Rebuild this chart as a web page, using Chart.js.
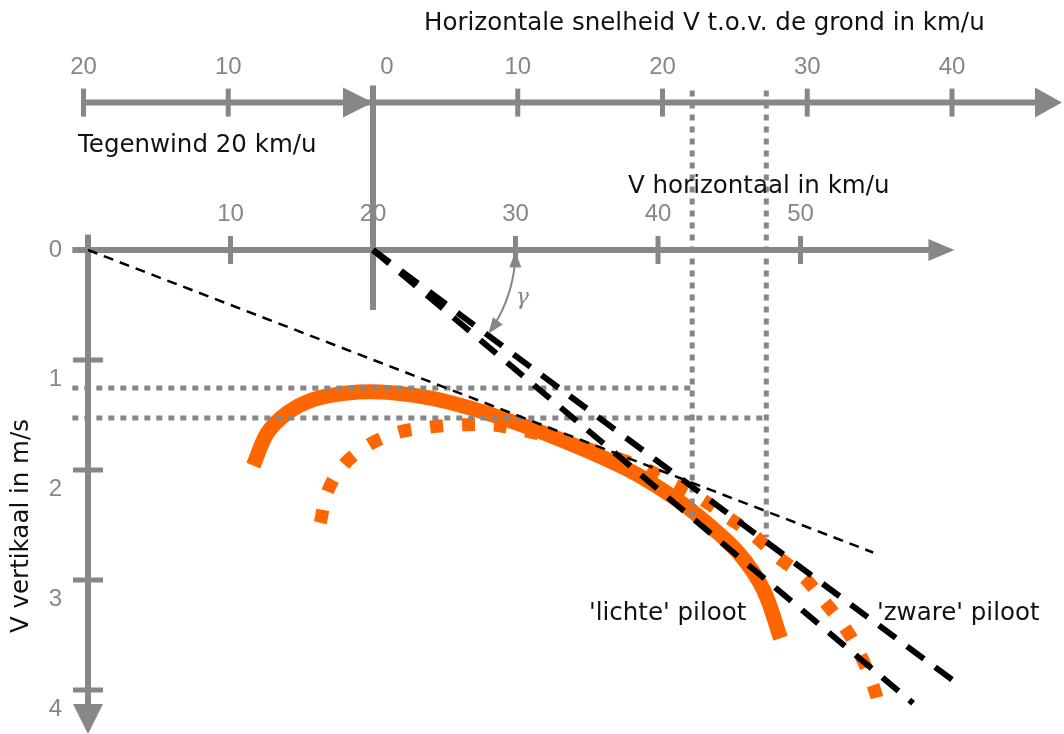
<!DOCTYPE html>
<html>
<head>
<meta charset="utf-8">
<script src="https://cdn.jsdelivr.net/npm/chart.js@4/dist/chart.umd.min.js"></script>
<style>
  html, body { margin: 0; padding: 0; background: #fff; }
  #wrap { width: 1064px; height: 734px; }
</style>
</head>
<body>
<div id="wrap"><canvas id="polar" width="1064" height="734"></canvas></div>
<script>
// Glider speed polar: airspeed (km/u) against sink rate (m/s)
// for a light and a heavy pilot, with best-glide tangents in a 20 km/u headwind.

// 'lichte' piloot — solid curve
const lightSpeed = [11.6, 12.6, 14.0, 15.8, 18.2, 20.5, 22.8, 25.2, 28.4, 33.1, 37.8, 41.0, 43.4, 45.7, 47.4, 48.6];
const lightSink  = [1.96, 1.66, 1.48, 1.36, 1.30, 1.29, 1.32, 1.38, 1.50, 1.72, 1.99, 2.24, 2.48, 2.76, 3.09, 3.53];

// 'zware' piloot — dotted curve
const heavySpeed = [16.3, 16.8, 17.9, 19.6, 21.7, 24.0, 26.1, 28.4, 30.5, 32.9, 35.4, 37.3, 39.0, 41.0, 43.0, 44.9, 46.7, 48.4, 50.2, 51.7, 53.1, 54.2, 55.1, 55.7];
const heavySink  = [2.48, 2.20, 1.96, 1.78, 1.66, 1.61, 1.59, 1.59, 1.64, 1.71, 1.82, 1.90, 1.98, 2.12, 2.26, 2.43, 2.59, 2.79, 2.97, 3.20, 3.43, 3.68, 3.96, 4.23];

// tangent from the origin (still air)
const stillAirTangentX = [0, 55.1];
const stillAirTangentY = [0, 2.75];
// tangents from the headwind point (20 km/u)
const lightTangentX = [20, 57.9];
const lightTangentY = [0, 4.12];
const heavyTangentX = [20, 61.4];
const heavyTangentY = [0, 3.98];

// minimum sink (m/s) and best-glide airspeed (km/u) read-off lines
const minSink        = [1.255, 1.527];
const bestGlideSpeed = [42.4, 47.6];
const bestGlideSink  = [2.47, 2.61];
const readoffStartX  = -1.1;
const groundAxisLevel = -1.34;   // sink-scale level of the ground-speed axis

// axis ticks
const airTicks    = [10, 20, 30, 40, 50];
const groundTicks = [-20, -10, 0, 10, 20, 30, 40];
const sinkTicks   = [0, 1, 2, 3, 4];
const headwind    = 20;

const ORANGE = '#ff6600';
const GREY = '#878787';
const TEXT_FONT = '24.5px "DejaVu Sans", sans-serif';

const pts = (xs, ys) => xs.map((x, i) => ({ x, y: ys[i] }));

const datasets = [
  { label: "'lichte' piloot", data: pts(lightSpeed, lightSink), borderColor: ORANGE, borderWidth: 15,
    borderCapStyle: 'butt', tension: 0.35, order: 6 },
  { label: "'zware' piloot", data: pts(heavySpeed, heavySink), borderColor: ORANGE, borderWidth: 13,
    borderDash: [13, 19], borderCapStyle: 'butt', tension: 0.35, order: 5 },
];
minSink.forEach((s, i) => datasets.push({
  data: [{ x: readoffStartX, y: s }, { x: bestGlideSpeed[i], y: s }],
  borderColor: GREY, borderWidth: 5, borderDash: [6, 6], borderCapStyle: 'butt', order: 4 }));
bestGlideSpeed.forEach((v, i) => datasets.push({
  data: [{ x: v, y: groundAxisLevel - 0.11 }, { x: v, y: bestGlideSink[i] }],
  borderColor: GREY, borderWidth: 5, borderDash: [6, 6], borderCapStyle: 'butt', order: 4 }));
datasets.push(
  { data: pts(stillAirTangentX, stillAirTangentY), borderColor: '#000', borderWidth: 2.5, borderDash: [10, 7], order: 2 },
  { data: pts(lightTangentX, lightTangentY), borderColor: '#000', borderWidth: 6, borderDash: [21, 14], borderCapStyle: 'butt', order: 1 },
  { data: pts(heavyTangentX, heavyTangentY), borderColor: '#000', borderWidth: 6, borderDash: [21, 14], borderCapStyle: 'butt', order: 1 }
);
datasets.forEach(d => { d.showLine = true; d.pointRadius = 0; d.fill = false; });

function arrowHead(ctx, tipX, tipY, dx, dy, len, half) {
  // dx,dy: unit direction of the arrow
  const bx = tipX - dx * len, by = tipY - dy * len;
  ctx.beginPath();
  ctx.moveTo(tipX, tipY);
  ctx.lineTo(bx - dy * half, by + dx * half);
  ctx.lineTo(bx + dy * half, by - dx * half);
  ctx.closePath();
  ctx.fill();
}

const axesPlugin = {
  id: 'polarAxes',
  beforeDraw(chart) {
    const { ctx } = chart;
    ctx.save();
    ctx.fillStyle = '#fff';
    ctx.fillRect(0, 0, chart.width, chart.height);
    ctx.restore();
  },
  beforeDatasetsDraw(chart) {
    const { ctx, scales } = chart;
    const X = v => scales.x.getPixelForValue(v);
    const Y = v => scales.y.getPixelForValue(v);
    const G = v => scales.g.getPixelForValue(v);
    ctx.save();
    ctx.strokeStyle = GREY; ctx.fillStyle = GREY; ctx.lineCap = 'butt';

    // ground-speed axis
    const yt = Y(groundAxisLevel);
    ctx.lineWidth = 6;
    ctx.beginPath(); ctx.moveTo(G(-20), yt); ctx.lineTo(chart.width - 20, yt); ctx.stroke();
    arrowHead(ctx, chart.width - 2, yt, 1, 0, 27, 15);
    arrowHead(ctx, G(0), yt, 1, 0, 30, 15);
    ctx.lineWidth = 5;
    groundTicks.forEach(v => {
      if (v === 0) return;
      ctx.beginPath(); ctx.moveTo(G(v), yt - 14); ctx.lineTo(G(v), yt + 14); ctx.stroke();
    });
    // link between the two axes at the headwind point
    ctx.lineWidth = 6;
    ctx.beginPath(); ctx.moveTo(X(headwind), yt - 17); ctx.lineTo(X(headwind), Y(0.545)); ctx.stroke();

    // airspeed axis
    const y0 = Y(0);
    ctx.beginPath(); ctx.moveTo(X(-1.1), y0); ctx.lineTo(X(59.2), y0); ctx.stroke();
    arrowHead(ctx, X(60.8), y0, 1, 0, 26, 11);
    ctx.lineWidth = 5;
    airTicks.forEach(v => {
      ctx.beginPath(); ctx.moveTo(X(v), y0 - 14); ctx.lineTo(X(v), y0 + 14); ctx.stroke();
    });

    // sink axis
    const x0 = X(0);
    ctx.lineWidth = 6;
    ctx.beginPath(); ctx.moveTo(x0, Y(-0.14)); ctx.lineTo(x0, chart.height - 20); ctx.stroke();
    arrowHead(ctx, x0, chart.height, 0, 1, 30, 15);
    ctx.lineWidth = 5;
    sinkTicks.forEach(v => {
      if (v === 0) return;
      ctx.beginPath(); ctx.moveTo(x0 - 15, Y(v)); ctx.lineTo(x0 + 15, Y(v)); ctx.stroke();
    });

    // tick labels
    ctx.font = '24px "Liberation Sans", Arial, sans-serif';
    ctx.textAlign = 'center'; ctx.textBaseline = 'middle';
    groundTicks.forEach(v => ctx.fillText(String(Math.abs(v)), G(v) + (v === 0 ? 14 : 0), yt - 35));
    airTicks.forEach(v => ctx.fillText(String(v), X(v), y0 - 36));
    ctx.textAlign = 'right';
    sinkTicks.forEach(v => ctx.fillText(String(v), x0 - 26, Y(v) + (v === 0 ? 0 : 19)));
    ctx.restore();
  },
  afterDatasetsDraw(chart) {
    const { ctx, scales } = chart;
    const X = v => scales.x.getPixelForValue(v);
    const Y = v => scales.y.getPixelForValue(v);
    ctx.save();

    // angle of descent γ between the ground line and the heavy-pilot tangent
    const cx = X(headwind), cy = Y(0);
    const r = X(headwind + 10) - cx;
    const dxp = X(heavyTangentX[1]) - cx, dyp = Y(heavyTangentY[1]) - cy;
    const ang = Math.atan2(dyp, dxp);
    ctx.strokeStyle = GREY; ctx.fillStyle = GREY; ctx.lineWidth = 2;
    const a0 = 0.09, a1 = ang - 0.09;
    ctx.beginPath(); ctx.arc(cx, cy, r, a0, a1); ctx.stroke();
    // arrowheads at both ends (tangent directions)
    arrowHead(ctx, cx + r * Math.cos(0.01), cy + r * Math.sin(0.01), Math.sin(0.01), -Math.cos(0.01), 16, 6);
    arrowHead(ctx, cx + r * Math.cos(ang - 0.01), cy + r * Math.sin(ang - 0.01), -Math.sin(ang), Math.cos(ang), 16, 6);
    ctx.font = 'italic 22px "DejaVu Serif", serif';
    ctx.textAlign = 'center'; ctx.textBaseline = 'middle';
    ctx.fillText('γ', cx + r * Math.cos(ang / 2) + 14, cy + r * Math.sin(ang / 2) + 4);

    // titles and annotations
    ctx.fillStyle = '#111';
    ctx.font = TEXT_FONT;
    ctx.textAlign = 'left'; ctx.textBaseline = 'alphabetic';
    ctx.fillText('Horizontale snelheid V t.o.v. de grond in km/u', 424, 30);
    ctx.fillText('Tegenwind 20 km/u', 78, 152);
    ctx.fillText('V horizontaal in km/u', 628, 193);
    ctx.fillText("'lichte' piloot", 589, 620);
    ctx.fillText("'zware' piloot", 877, 620);

    ctx.save();
    ctx.translate(28, 526);
    ctx.rotate(-Math.PI / 2);
    ctx.textAlign = 'center';
    ctx.fillText('V vertikaal in m/s', 0, 0);
    ctx.restore();

    ctx.restore();
  }
};

new Chart(document.getElementById('polar'), {
  type: 'scatter',
  data: { datasets },
  options: {
    responsive: false,
    animation: false,
    events: [],
    layout: { padding: 0 },
    plugins: { legend: { display: false }, tooltip: { enabled: false } },
    scales: {
      x: { type: 'linear', min: -88 / 14.25, max: (1064 - 88) / 14.25, display: false },
      g: { type: 'linear', axis: 'x', min: -373 / 14.475, max: (1064 - 373) / 14.475, display: false },
      y: { type: 'linear', reverse: true, min: -250 / 110, max: (734 - 250) / 110, display: false }
    }
  },
  plugins: [axesPlugin]
});
</script>
</body>
</html>
